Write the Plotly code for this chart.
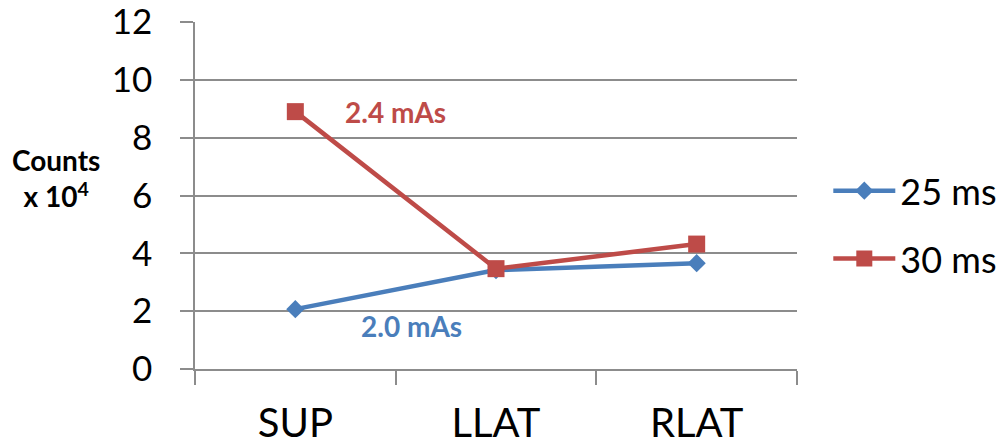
import plotly.graph_objects as go

categories = ["SUP", "LLAT", "RLAT"]
series_25ms = [2.07, 3.42, 3.66]
series_30ms = [8.9, 3.47, 4.32]
series_names = ["25 ms", "30 ms"]
y_ticks = [0, 2, 4, 6, 8, 10, 12]

BLUE = "#4A7EBB"
RED = "#BE4B48"
GRID = "#8C8C8C"
FONT = "Lato, Carlito, Calibri, sans-serif"

fig = go.Figure()
fig.add_trace(go.Scatter(
    x=categories, y=series_25ms, name=series_names[0], mode="lines+markers",
    line=dict(color=BLUE, width=4.5),
    marker=dict(symbol="diamond", size=14, color=BLUE),
    legendgroup="a",
))
fig.add_trace(go.Scatter(
    x=categories, y=series_30ms, name=series_names[1], mode="lines+markers",
    line=dict(color=RED, width=4.5),
    marker=dict(symbol="square", size=17, color=RED),
    legendgroup="b",
))

fig.add_annotation(x=0.498, y=8.89, xref="x", yref="y", text="<b>2.4 mAs</b>",
                   showarrow=False, font=dict(family=FONT, size=28, color=RED))
fig.add_annotation(x=0.58, y=1.49, xref="x", yref="y", text="<b>2.0 mAs</b>",
                   showarrow=False, font=dict(family=FONT, size=28, color=BLUE))
fig.add_annotation(x=-0.231, y=0.55, xref="paper", yref="paper",
                   xanchor="center", yanchor="middle",
                   text="<b>Counts</b><br><b>x 10<sup>4</sup></b>",
                   showarrow=False, align="center",
                   font=dict(family=FONT, size=28, color="black"))

# page body has an 8px default margin, so the figure is 8px smaller and shifted
fig.update_layout(
    width=996, height=438,
    margin=dict(l=187, r=207, t=14, b=77, autoexpand=False),
    paper_bgcolor="white", plot_bgcolor="white",
    font=dict(family=FONT, color="black"),
    showlegend=True,
    legend=dict(x=1.052, y=0.60, xanchor="left", yanchor="top",
                font=dict(family=FONT, size=36, color="black"),
                traceorder="grouped", tracegroupgap=18, itemwidth=62,
                bgcolor="rgba(0,0,0,0)"),
    xaxis=dict(
        type="category", range=[-0.5, 2.5], automargin=False,
        showgrid=False, showline=True, linecolor=GRID, linewidth=1.5,
        ticks="outside", tickson="boundaries", ticklen=14,
        tickcolor=GRID, tickwidth=1.5,
        tickfont=dict(family=FONT, size=40, color="black"),
        ticklabelstandoff=18, ticklabeloverflow="allow",
    ),
    yaxis=dict(
        range=[0, 12], tickvals=y_ticks, automargin=False,
        showgrid=True, gridcolor=GRID, gridwidth=1.5,
        showline=True, linecolor=GRID, linewidth=1.5,
        ticks="outside", ticklen=13, tickcolor=GRID, tickwidth=1.5,
        tickfont=dict(family=FONT, size=35, color="black"),
        ticklabelstandoff=21, zeroline=False, ticklabeloverflow="allow",
    ),
)

fig.write_html("out.html")
